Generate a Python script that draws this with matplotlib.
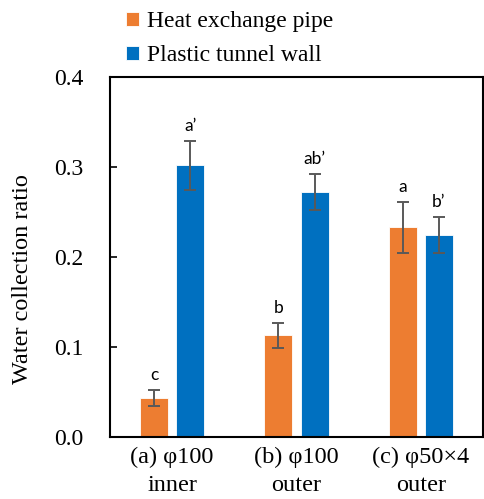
import matplotlib

matplotlib.use("Agg")

import matplotlib.pyplot as plt
import numpy as np

groups = ["(a) φ100\ninner", "(b) φ100\nouter", "(c) φ50×4\nouter"]
series = ["Heat exchange pipe", "Plastic tunnel wall"]
heat_pipe = [0.043, 0.113, 0.233]
heat_pipe_err = [0.009, 0.014, 0.028]
tunnel_wall = [0.302, 0.272, 0.225]
tunnel_wall_err = [0.027, 0.020, 0.020]
heat_pipe_letters = ["c", "b", "a"]
tunnel_wall_letters = ["a\u2019", "ab\u2019", "b\u2019"]

colors = ["#ED7D31", "#0070C0"]
serif = ["Liberation Serif", "DejaVu Serif"]

fig = plt.figure(figsize=(4.85, 4.99), dpi=100)
ax = fig.add_axes([0.2268, 0.1242, 0.7691, 0.7215])

x = np.arange(len(groups))
width = 0.225
offset = 0.145

for vals, errs, letters, color, name, sign in [
    (heat_pipe, heat_pipe_err, heat_pipe_letters, colors[0], series[0], -1),
    (tunnel_wall, tunnel_wall_err, tunnel_wall_letters, colors[1], series[1], 1),
]:
    pos = x + sign * offset
    ax.bar(pos, vals, width, color=color, edgecolor="white", linewidth=0.6, label=name)
    ax.errorbar(pos, vals, yerr=errs, fmt="none", ecolor="#595959",
                elinewidth=1.4, capsize=4.5, capthick=1.4)
    for p, v, e, t in zip(pos, vals, errs, letters):
        ax.annotate(t, (p, v + e), xytext=(0, 5), textcoords="offset points",
                    ha="center", va="bottom", fontsize=12.5, family=["Lato", "DejaVu Sans"])

ax.set_xlim(-0.5, 2.5)
ax.set_ylim(0, 0.4)
ax.set_yticks(np.arange(0, 0.41, 0.1))
ax.set_yticklabels([f"{v:.1f}" for v in np.arange(0, 0.41, 0.1)], family=serif, fontsize=17)
ax.set_xticks(x)
ax.set_xticklabels(groups, family=serif, fontsize=17.5, linespacing=1.45)
ax.tick_params(axis="x", length=0, pad=7)
ax.tick_params(axis="y", direction="in", length=5, width=1.2, pad=19)
for s in ax.spines.values():
    s.set_linewidth(1.5)
ax.set_ylabel("Water collection ratio", family=serif, fontsize=17.5)
ax.yaxis.set_label_coords(-0.206, 0.44)

fig.legend(loc="upper left", bbox_to_anchor=(0.215, 1.02), frameon=False,
           prop={"family": serif, "size": 17}, handlelength=0.55, handleheight=0.55,
           handletextpad=0.35, labelspacing=0.55)

fig.savefig("out.png", dpi=100)
